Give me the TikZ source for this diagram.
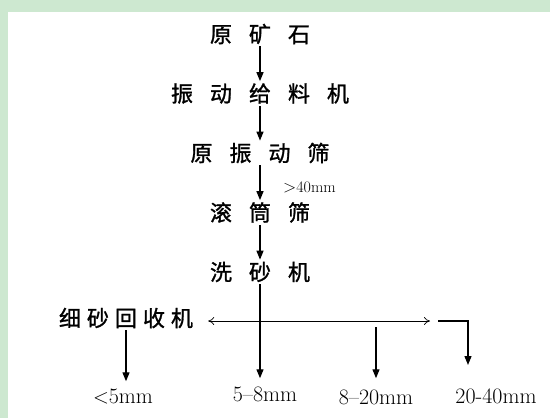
\documentclass[tikz,border=0pt]{standalone}
\usepackage{fontspec}
\newfontfamily\cjk{Noto Sans CJK SC}[FakeBold=1.2]
\usetikzlibrary{arrows.meta}
\definecolor{panel}{HTML}{CDE8D0}
\newcommand{\gap}[1][17pt]{\hspace{#1}}

\tikzset{
  stage/.style={font=\cjk\fontsize{22}{22}\selectfont, inner sep=2pt},
  size/.style={font=\fontsize{22}{22}\selectfont, inner sep=2pt},
  flow/.style={-{Triangle[length=9pt,width=7pt]}, line width=1.3pt},
  feed/.style={-{To[length=6pt,width=8pt]}, line width=0.7pt},
}

\begin{document}
\begin{tikzpicture}[x=1pt,y=-1pt,node distance=59.5pt]
      \useasboundingbox (0,0) rectangle (550,418);
      \fill[panel] (0,0) rectangle (550,418);
      \fill[white] (8,12) rectangle (550,418);

      \node[stage] (ore) at (260,34) {原\gap 矿\gap 石};
      % main line
      \node[stage,below of=ore] (feeder) {振\gap 动\gap 给\gap 料\gap 机};
      \node[stage,below of=feeder] (screen) {原\gap 振\gap 动\gap 筛};
      \node[stage,below of=screen] (drum) {滚\gap 筒\gap 筛};
      \node[stage,below of=drum] (washer) {洗\gap 砂\gap 机};
      \node[anchor=west,inner sep=0pt,font=\fontsize{16}{16}\selectfont] (over) at (283,187) {$>$40mm};
      % side line
      \node[stage] (fines) at (126,318) {细\gap[6pt]砂\gap[6pt]回\gap[6pt]收\gap[6pt]机};
      % sizes
      \node[size,anchor=base] (lt5) at (123,403) {$<$5mm};
      \node[size,anchor=base] (m58) at (265,401) {5--8mm};
      \node[size,anchor=base] (m820) at (376,404) {8--20mm};
      \node[size,anchor=base] (m2040) at (496,403) {20-40mm};

      \coordinate (split) at (261,321);
      \coordinate (rtip) at (430,321);
      \coordinate (cstart) at (438,321);
      \coordinate (cend) at (468,365);
      \coordinate (mid) at (376,327);

      % links
      \draw[flow] (ore) -- (feeder);
      \draw[flow] (feeder) -- (screen);
      \draw[flow] (screen) -- (drum);
      \draw[flow] (drum) -- (washer);
      \draw[flow,shorten >=6pt] (washer) -- (washer |- m58.north);
      \draw[feed,shorten >=13pt] (split) -- (split -| fines.east);
      \draw[feed] (split) -- (rtip);
      \draw[flow] (cstart) -| (cend);
      \draw[flow,shorten >=9pt] (mid) -- (mid |- m820.north);
      \draw[flow,shorten >=5pt] (fines) -- (fines |- lt5.north);
    \end{tikzpicture}
\end{document}
